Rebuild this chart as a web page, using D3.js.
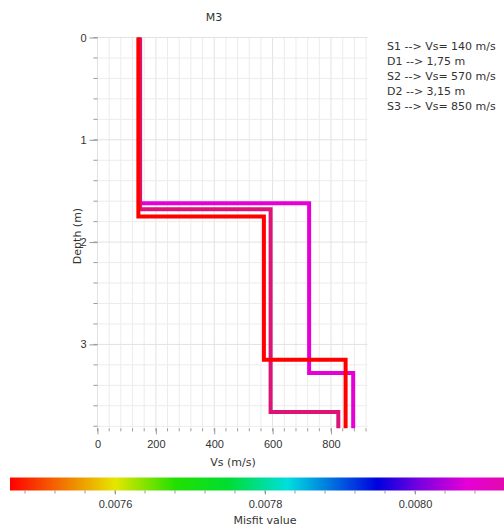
<!DOCTYPE html>
<html>
<head>
<meta charset="utf-8">
<script src="https://cdn.jsdelivr.net/npm/d3@7"></script>
<style>
  body { margin: 0; background: #fff; }
  svg { font-family: "DejaVu Sans", Verdana, sans-serif; }
  .grid line { stroke: #ececec; stroke-width: 1; }
  .grid line.major { stroke: #e2e2e2; }
  .tick-label { font-size: 11px; fill: #333; }
  .axis-title { font-size: 11px; fill: #333; }
  .note { font-size: 11px; fill: #333; }
</style>
</head>
<body>
<div id="chart"></div>
<script>
// ---- data ----
var title = "M3";
// each profile: layer velocities (m/s), layer bottoms (m) and its misfit value
var profileNames = ["P1", "P2", "P3"];
var profileMisfit = [0.00807, 0.00818, 0.00746];
var profileVs = [
  [142, 725, 876],
  [146, 593, 825],
  [140, 570, 850]
];
var profileDepths = [
  [1.62, 3.28],
  [1.68, 3.66],
  [1.75, 3.15]
];
var noteLines = [
  "S1 --> Vs= 140 m/s",
  "D1 --> 1,75 m",
  "S2 --> Vs= 570 m/s",
  "D2 --> 3,15 m",
  "S3 --> Vs= 850 m/s"
];
var vsTicks = [0, 200, 400, 600, 800];
var depthTicks = [0, 1, 2, 3];
var misfitTicks = [0.0076, 0.0078, 0.0080];
// colour map of the misfit bar
var misfitStops = [0.00746, 0.00760, 0.00768, 0.00775, 0.00783, 0.00795, 0.00801, 0.00807, 0.00818];
var stopColors = ["#ff0000", "#e6e600", "#22e000", "#00dd30", "#00dede", "#0000e0", "#8000e0", "#e600d6", "#dc1478"];

// ---- layout ----
var W = 504, H = 529;
var svg = d3.select("#chart").append("svg").attr("width", W).attr("height", H);

var x = d3.scaleLinear().domain([0, 925]).range([97.5, 367.5]);
var y = d3.scaleLinear().domain([0, 3.82]).range([37.5, 428.3]);
var color = d3.scaleLinear().domain(misfitStops).range(stopColors).clamp(true);

// grid
var g = svg.append("g").attr("class", "grid");
var xMinor = d3.range(0, 925, 40);
var yMinor = d3.range(0, 3.82, 0.2);
g.selectAll("line.vx").data(xMinor).enter().append("line")
  .attr("class", function(d){ return d % 200 === 0 ? "major" : "minor"; })
  .attr("x1", function(d){ return x(d); }).attr("x2", function(d){ return x(d); })
  .attr("y1", y.range()[0]).attr("y2", y.range()[1]);
g.selectAll("line.hy").data(yMinor).enter().append("line")
  .attr("class", function(d){ return Math.abs(d - Math.round(d)) < 1e-6 ? "major" : "minor"; })
  .attr("x1", x.range()[0]).attr("x2", x.range()[1])
  .attr("y1", function(d){ return y(d); }).attr("y2", function(d){ return y(d); });

// axes
var yAxis = svg.append("g").attr("transform", "translate(" + x.range()[0] + ",0)")
  .call(d3.axisLeft(y).tickValues(depthTicks).tickFormat(d3.format("d")).tickSize(8).tickPadding(3));
var xAxis = svg.append("g").attr("transform", "translate(0," + y.range()[1] + ")")
  .call(d3.axisBottom(x).tickValues(vsTicks).tickFormat(d3.format("d")).tickSize(6).tickPadding(6));
[xAxis, yAxis].forEach(function(a){
  a.select(".domain").remove();
  a.selectAll(".tick line").attr("stroke", "#999");
  a.selectAll(".tick text").attr("class", "tick-label").attr("font-size", null).attr("font-family", null);
});
// minor tick marks
svg.append("g").selectAll("line").data(yMinor).enter().append("line")
  .attr("x1", x.range()[0] - 4).attr("x2", x.range()[0])
  .attr("y1", function(d){ return y(d); }).attr("y2", function(d){ return y(d); })
  .attr("stroke", "#999");
svg.append("g").selectAll("line").data(xMinor).enter().append("line")
  .attr("x1", function(d){ return x(d); }).attr("x2", function(d){ return x(d); })
  .attr("y1", y.range()[1]).attr("y2", y.range()[1] + 3)
  .attr("stroke", "#999");

// profiles (stair lines)
var line = d3.line().x(function(d){ return x(d[0]); }).y(function(d){ return y(d[1]); });
profileNames.forEach(function(name, i){
  var pts = [], top = 0;
  profileVs[i].forEach(function(v, k){
    var bottom = k < profileDepths[i].length ? profileDepths[i][k] : y.domain()[1];
    pts.push([v, top], [v, bottom]);
    top = bottom;
  });
  svg.append("path").datum(pts)
    .attr("d", line)
    .attr("fill", "none")
    .attr("stroke", color(profileMisfit[i]))
    .attr("stroke-width", 4)
    .attr("stroke-linejoin", "miter");
});

// titles
svg.append("text").attr("class", "axis-title").attr("x", 214).attr("y", 21)
  .attr("text-anchor", "middle").text(title);
svg.append("text").attr("class", "axis-title").attr("x", 233).attr("y", 466)
  .attr("text-anchor", "middle").text("Vs (m/s)");
svg.append("text").attr("class", "axis-title")
  .attr("transform", "translate(81,236) rotate(-90)")
  .attr("text-anchor", "middle").text("Depth (m)");

// note
svg.append("g").selectAll("text").data(noteLines).enter().append("text")
  .attr("class", "note").attr("x", 387)
  .attr("y", function(d, i){ return 50 + i * 15; })
  .text(function(d){ return d; });

// colour bar
var cx = d3.scaleLinear().domain([0.0076, 0.0080]).range([115, 415]);
var defs = svg.append("defs");
var grad = defs.append("linearGradient").attr("id", "misfitGrad")
  .attr("gradientUnits", "userSpaceOnUse")
  .attr("x1", cx(misfitStops[0])).attr("x2", cx(misfitStops[misfitStops.length - 1]));
misfitStops.forEach(function(v, i){
  grad.append("stop")
    .attr("offset", (v - misfitStops[0]) / (misfitStops[misfitStops.length - 1] - misfitStops[0]))
    .attr("stop-color", stopColors[i]);
});
svg.append("rect")
  .attr("x", cx(misfitStops[0])).attr("y", 477.5)
  .attr("width", cx(misfitStops[misfitStops.length - 1]) - cx(misfitStops[0]))
  .attr("height", 13)
  .attr("fill", "url(#misfitGrad)");
var cAxis = svg.append("g").attr("transform", "translate(0,490.5)")
  .call(d3.axisBottom(cx).tickValues(misfitTicks).tickFormat(d3.format(".4f")).tickSize(4).tickPadding(6));
cAxis.select(".domain").remove();
cAxis.selectAll(".tick line").attr("stroke", "#999");
cAxis.selectAll(".tick text").attr("class", "tick-label").attr("font-size", null).attr("font-family", null);
svg.append("g").selectAll("line").data(d3.range(0.00748, 0.00818, 0.00004)).enter().append("line")
  .attr("x1", function(d){ return cx(d); }).attr("x2", function(d){ return cx(d); })
  .attr("y1", 490.5).attr("y2", 493.5).attr("stroke", "#999");
svg.append("text").attr("class", "axis-title").attr("x", 265).attr("y", 524)
  .attr("text-anchor", "middle").text("Misfit value");
</script>
</body>
</html>
